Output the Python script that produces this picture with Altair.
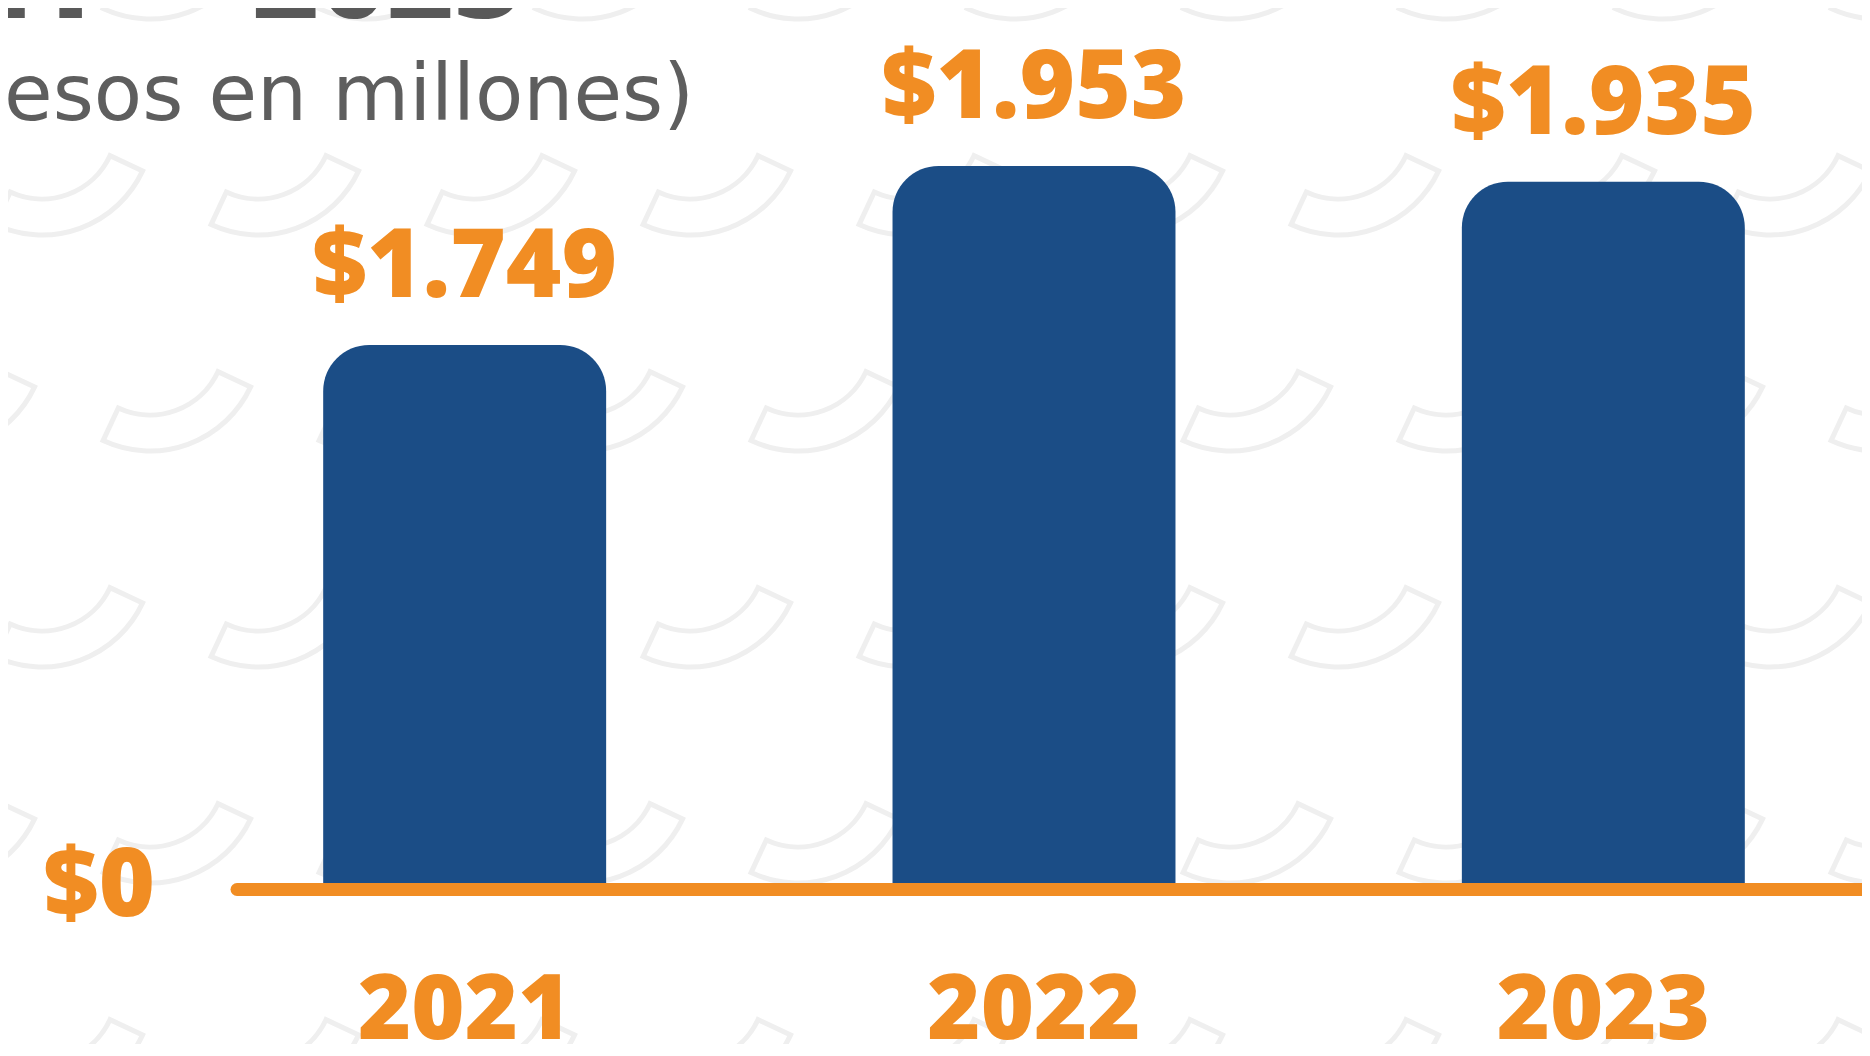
import altair as alt
import pandas as pd

# ---- data ----
YEARS = ["2021", "2022", "2023"]
VALUES = [1749, 1953, 1935]
VALUE_LABELS = ["$1.749", "$1.953", "$1.935"]
ZERO_LABEL = "$0"
TITLE_TEXT = "2021\u00a0\u00a0-\u00a0\u00a02023"
SUBTITLE_TEXT = "(Pesos en millones)"

# ---- style ----
BLUE = "#1B4D86"
ORANGE = "#F18D23"
GRAY = "#5E5E5E"
PATTERN = "#EFEFEF"
NUM_FONT = "Open Sans"

W, H = 1854, 1036
Y_FLOOR = 1136   # visual floor of the value scale (bars in the original are not zero-based)
Y_TOP = 1953

df = pd.DataFrame({"year": YEARS, "value": VALUES, "label": VALUE_LABELS})

x_scale = alt.Scale(domain=YEARS, range=[172, 1880], paddingInner=0.503, paddingOuter=0.2515)
y_scale = alt.Scale(domain=[Y_FLOOR, Y_TOP], range=[875, 158], zero=False, nice=False)
x_enc = alt.X("year:N", axis=None, scale=x_scale, sort=YEARS)
y_enc = alt.Y("value:Q", axis=None, scale=y_scale)

# ---- decorative background pattern (staggered grid of outlined arcs) ----
pts = []
for j in range(-1, 6):
    shift = 0 if j % 2 == 0 else 108
    for k in range(-1, 10):
        pts.append({"px": 34 + shift + 216 * k, "py": 116 + 216 * j})
pattern_df = pd.DataFrame(pts)

pattern = alt.Chart(pattern_df).mark_arc(
    filled=False, color=PATTERN, strokeWidth=5,
    radius=75, radius2=111
).encode(
    x=alt.X("px:Q", scale=None, axis=None),
    y=alt.Y("py:Q", scale=None, axis=None),
    theta=alt.value(2.007),
    theta2=alt.value(3.578),
)

bars = alt.Chart(df).mark_bar(
    color=BLUE, cornerRadiusTopLeft=46, cornerRadiusTopRight=46
).encode(x=x_enc, y=y_enc, y2=alt.datum(Y_FLOOR))

base_rule = alt.Chart(pd.DataFrame({"v": [Y_FLOOR]})).mark_rule(
    color=ORANGE, strokeWidth=13, strokeCap="round", yOffset=6.5
).encode(
    x=alt.value(229), x2=alt.value(1900),
    y=alt.Y("v:Q", axis=None, scale=y_scale),
)

value_labels = alt.Chart(df).mark_text(
    color=ORANGE, font=NUM_FONT, fontWeight=800, fontSize=95,
    baseline="alphabetic", align="center", dy=-48
).encode(x=x_enc, y=y_enc, text="label:N")

year_labels = alt.Chart(df).mark_text(
    color=ORANGE, font=NUM_FONT, fontWeight=800, fontSize=91,
    baseline="alphabetic", align="center"
).encode(x=x_enc, y=alt.value(1031), text="year:N")

zero_label = alt.Chart(pd.DataFrame({"v": [Y_FLOOR], "t": [ZERO_LABEL]})).mark_text(
    color=ORANGE, font=NUM_FONT, fontWeight=800, fontSize=96,
    baseline="alphabetic", align="right", dy=33
).encode(x=alt.value(147), y=alt.Y("v:Q", axis=None, scale=y_scale), text="t:N")

title = alt.Chart(pd.DataFrame({"t": [TITLE_TEXT]})).mark_text(
    color="#595959", font=NUM_FONT, fontWeight=800, fontSize=115,
    baseline="alphabetic", align="right"
).encode(x=alt.value(514), y=alt.value(10), text="t:N")

subtitle = alt.Chart(pd.DataFrame({"t": [SUBTITLE_TEXT]})).mark_text(
    color=GRAY, font="DejaVu Sans", fontSize=79,
    baseline="alphabetic", align="right"
).encode(x=alt.value(686), y=alt.value(112), text="t:N")

chart = alt.layer(
    pattern, bars, base_rule, value_labels, year_labels, zero_label, title, subtitle
).resolve_scale(
    x="independent", y="independent"
).properties(
    width=W, height=H,
    autosize=alt.AutoSizeParams(type="none"),
    padding=0,
    background="white",
).configure_view(strokeWidth=0)

chart.save("out.html", embed_options={"renderer": "svg", "actions": False})
